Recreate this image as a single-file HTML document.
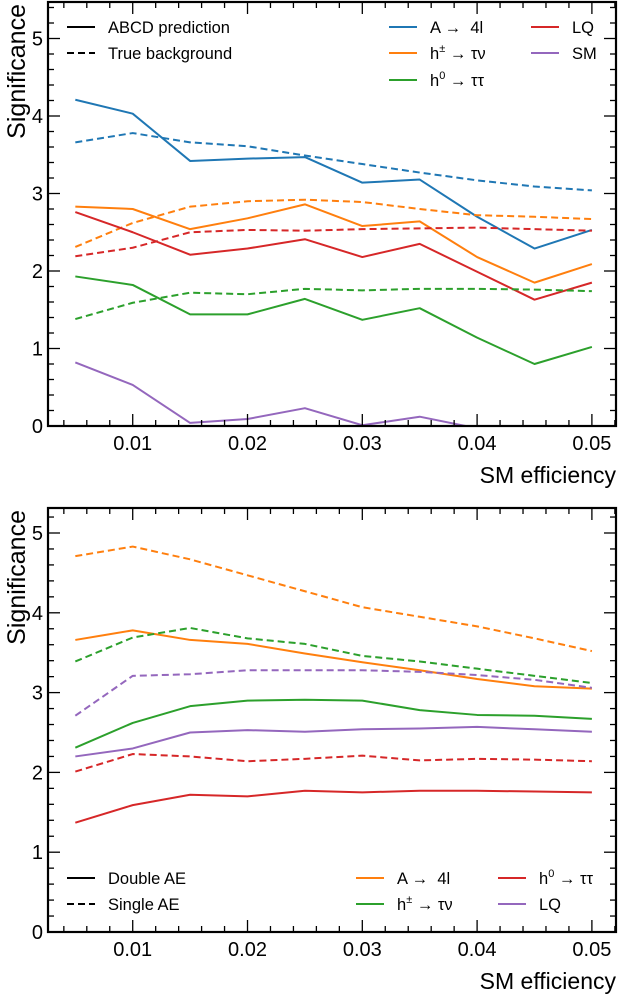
<!DOCTYPE html>
<html><head><meta charset="utf-8"><style>
html,body{margin:0;padding:0;background:#fff;}
svg{display:block;font-family:"Liberation Sans",Arial,sans-serif;}
</style></head><body>
<svg id="chart" width="620" height="994" viewBox="0 0 620 994" xmlns="http://www.w3.org/2000/svg"></svg>
<script>
const xValues=[0.005,0.01,0.015,0.02,0.025,0.03,0.035,0.04,0.045,0.05];
const xTickLabels=["0.01","0.02","0.03","0.04","0.05"];
const yTickLabels=["0","1","2","3","4","5"];
// Top panel: ABCD prediction (solid) vs true background (dashed)
const topA4lPred=[4.21,4.03,3.42,3.45,3.47,3.14,3.18,2.70,2.29,2.53];
const topA4lTrue=[3.66,3.78,3.66,3.61,3.49,3.38,3.27,3.17,3.09,3.04];
const topHpmPred=[2.83,2.80,2.54,2.68,2.86,2.58,2.64,2.18,1.85,2.09];
const topHpmTrue=[2.31,2.62,2.83,2.90,2.92,2.89,2.80,2.72,2.70,2.67];
const topLQPred=[2.76,2.50,2.21,2.29,2.41,2.18,2.35,1.99,1.63,1.85];
const topLQTrue=[2.19,2.30,2.50,2.53,2.52,2.54,2.55,2.56,2.54,2.52];
const topH0Pred=[1.93,1.82,1.44,1.44,1.64,1.37,1.52,1.14,0.80,1.02];
const topH0True=[1.38,1.59,1.72,1.70,1.77,1.75,1.77,1.77,1.76,1.74];
const topSMPred=[0.82,0.53,0.04,0.09,0.23,0.01,0.12,-0.03,-0.1,-0.1];
// Bottom panel: double AE (solid) vs single AE (dashed)
const botA4lDouble=[3.66,3.78,3.66,3.61,3.49,3.38,3.28,3.17,3.08,3.05];
const botA4lSingle=[4.71,4.83,4.67,4.47,4.27,4.07,3.95,3.83,3.68,3.52];
const botHpmDouble=[2.31,2.62,2.83,2.90,2.91,2.90,2.78,2.72,2.71,2.67];
const botHpmSingle=[3.39,3.69,3.81,3.68,3.61,3.46,3.39,3.30,3.21,3.12];
const botH0Double=[1.37,1.59,1.72,1.70,1.77,1.75,1.77,1.77,1.76,1.75];
const botH0Single=[2.01,2.23,2.20,2.14,2.17,2.21,2.15,2.17,2.16,2.14];
const botLQDouble=[2.20,2.30,2.50,2.53,2.51,2.54,2.55,2.57,2.54,2.51];
const botLQSingle=[2.71,3.21,3.23,3.28,3.28,3.28,3.26,3.22,3.16,3.06];

const C={blue:"#1f77b4",orange:"#ff7f0e",green:"#2ca02c",red:"#d62728",purple:"#9467bd"};
const svg=document.getElementById('chart');
const NS="http://www.w3.org/2000/svg";
function mk(tag,attrs,parent){const e=document.createElementNS(NS,tag);for(const k in attrs)e.setAttribute(k,attrs[k]);(parent||svg).appendChild(e);return e;}

function panel(p){
  const g=mk('g',{});
  
  
  const L=48,R=616,T=p.top,B=p.bottom;
  const xmin=0.00262,xmax=0.0521;
  const X=v=>L+(v-xmin)/(xmax-xmin)*(R-L);
  const Y=v=>B-v*p.ppu;
  const cid='clip-'+p.name;
  const defs=mk('defs',{},g);
  const cp=mk('clipPath',{id:cid},defs);
  mk('rect',{x:L,y:T,width:R-L,height:B-T},cp);
  const lines=mk('g',{'clip-path':'url(#'+cid+')'},g);
  p.series.forEach(s=>{
    const pts=xValues.map((x,i)=>X(x).toFixed(2)+','+Y(s.data[i]).toFixed(2)).join(' ');
    const pl=mk('polyline',{points:pts,fill:'none',stroke:s.color,'stroke-width':2,'stroke-linejoin':'round'},lines);
    if(s.dash)pl.setAttribute('stroke-dasharray','7,4');
    
    
  });
  const tk=mk('g',{stroke:'#000','stroke-width':1.3},g);
  for(let i=2;i<=26;i++){const v=i*0.002;if(v<xmin||v>xmax)continue;const major=(i%5===0);const len=major?12:6;const x=X(v);
    mk('line',{x1:x,y1:B,x2:x,y2:B-len},tk);mk('line',{x1:x,y1:T,x2:x,y2:T+len},tk);}
  for(let i=0;i<=27;i++){const v=i*0.2;const y=Y(v);if(y<T)break;const major=(i%5===0);const len=major?12:6;
    mk('line',{x1:L,y1:y,x2:L+len,y2:y},tk);mk('line',{x1:R,y1:y,x2:R-len,y2:y},tk);}
  mk('rect',{x:L,y:T,width:R-L,height:B-T,fill:'none',stroke:'#000','stroke-width':2.2},g);
  xTickLabels.forEach((t,i)=>{const e=mk('text',{x:X(parseFloat(t)),y:B+24,'text-anchor':'middle','font-size':20},g);e.textContent=t;
    });
  yTickLabels.forEach((t,i)=>{const e=mk('text',{x:43,y:Y(parseFloat(t))+7,'text-anchor':'end','font-size':20},g);e.textContent=t;
    });
  const yt=mk('text',{transform:'translate(25,'+(T+2)+') rotate(-90)','text-anchor':'end','font-size':25},g);yt.textContent='Significance';
  
  const xt=mk('text',{x:R,y:B+57,'text-anchor':'end','font-size':23},g);xt.textContent='SM efficiency';
  
  p.legend.forEach(l=>{
    const lg=mk('g',{},g);
    
    
    const ln=mk('line',{x1:l.x,y1:l.y,x2:l.x+28,y2:l.y,stroke:l.color,'stroke-width':2},lg);
    if(l.dash)ln.setAttribute('stroke-dasharray','7,4');
    const tx=mk('text',{x:l.x+41,y:l.y+6,'font-size':16.5},lg);tx.innerHTML=l.label;
  });
}
const sup=(b,s)=>b+'<tspan dy="-7" font-size="11">'+s+'</tspan><tspan dy="7"> </tspan>';
panel({name:'top-panel',top:2,bottom:426,ppu:77.5,
  series:[
    {id:'a4l-abcd',data:topA4lPred,color:C.blue},{id:'a4l-true',data:topA4lTrue,color:C.blue,dash:1},
    {id:'hpm-abcd',data:topHpmPred,color:C.orange},{id:'hpm-true',data:topHpmTrue,color:C.orange,dash:1},
    {id:'lq-abcd',data:topLQPred,color:C.red},{id:'lq-true',data:topLQTrue,color:C.red,dash:1},
    {id:'h0-abcd',data:topH0Pred,color:C.green},{id:'h0-true',data:topH0True,color:C.green,dash:1},
    {id:'sm-abcd',data:topSMPred,color:C.purple}],
  legend:[
    {x:67,y:27,color:'#000',label:'ABCD prediction'},{x:67,y:53,color:'#000',dash:1,label:'True background'},
    {x:389,y:27,color:C.blue,label:'A → &#160;4l'},{x:389,y:53,color:C.orange,label:sup('h','±')+'→ τν'},
    {x:389,y:80,color:C.green,label:sup('h','0')+'→ ττ'},
    {x:531,y:27,color:C.red,label:'LQ'},{x:531,y:53,color:C.purple,label:'SM'}]
});
panel({name:'bottom-panel',top:508,bottom:932,ppu:79.8,
  series:[
    {id:'a4l-double',data:botA4lDouble,color:C.orange},{id:'a4l-single',data:botA4lSingle,color:C.orange,dash:1},
    {id:'hpm-double',data:botHpmDouble,color:C.green},{id:'hpm-single',data:botHpmSingle,color:C.green,dash:1},
    {id:'h0-double',data:botH0Double,color:C.red},{id:'h0-single',data:botH0Single,color:C.red,dash:1},
    {id:'lq-double',data:botLQDouble,color:C.purple},{id:'lq-single',data:botLQSingle,color:C.purple,dash:1}],
  legend:[
    {x:67,y:878,color:'#000',label:'Double AE'},{x:67,y:904,color:'#000',dash:1,label:'Single AE'},
    {x:356,y:878,color:C.orange,label:'A → &#160;4l'},{x:356,y:904,color:C.green,label:sup('h','±')+'→ τν'},
    {x:498,y:878,color:C.red,label:sup('h','0')+'→ ττ'},{x:498,y:904,color:C.purple,label:'LQ'}]
});
</script>
</body></html>
